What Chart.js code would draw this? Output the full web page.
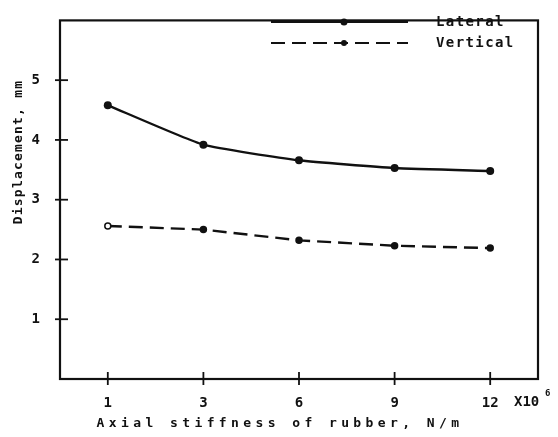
<!DOCTYPE html>
<html>
<head>
<meta charset="utf-8">
<script src="https://cdn.jsdelivr.net/npm/chart.js@4.4.1/dist/chart.umd.min.js"></script>
<style>
    html, body { margin: 0; padding: 0; background: #fff; }
    #wrap { width: 558px; height: 437px; }
</style>
</head>
<body>
<div id="wrap"><canvas id="chart" width="558" height="437"></canvas></div>
<script>
/**
 * Displacement vs. axial stiffness of rubber
 */

// 축 카테고리 (x 10^6 N/m)
const stiffness = ['1', '3', '6', '9', '12'];

// 변위 (mm)
const lateral = [4.58, 3.92, 3.66, 3.53, 3.48];
const vertical = [2.56, 2.50, 2.32, 2.23, 2.19];

const yTicks = [1, 2, 3, 4, 5];

const FONT = '"DejaVu Sans Mono", "Liberation Mono", monospace';
const INK = '#111';

/**
 * 프레임, 눈금, 축 제목, 범례를 그리는 플러그인
 */
const framePlugin = {
    id: 'frame',
    afterDraw(chart) {
        const { ctx, chartArea: a, scales } = chart;
        ctx.save();
        ctx.strokeStyle = INK;
        ctx.fillStyle = INK;

        // 외곽 박스
        ctx.lineWidth = 2.2;
        ctx.strokeRect(a.left, a.top, a.right - a.left, a.bottom - a.top);

        // 축을 가로지르는 눈금
        ctx.lineWidth = 1.8;
        yTicks.forEach(v => {
            const y = scales.y.getPixelForValue(v);
            ctx.beginPath();
            ctx.moveTo(a.left - 5, y);
            ctx.lineTo(a.left + 8, y);
            ctx.stroke();
        });
        stiffness.forEach((c, i) => {
            const x = scales.x.getPixelForValue(i);
            ctx.beginPath();
            ctx.moveTo(x, a.bottom - 7);
            ctx.lineTo(x, a.bottom + 6);
            ctx.stroke();
        });

        // x 축 배율 표기
        ctx.font = 'bold 14px ' + FONT;
        ctx.textBaseline = 'middle';
        ctx.textAlign = 'left';
        ctx.fillText('X10', 514, 402);
        ctx.font = 'bold 9px ' + FONT;
        ctx.fillText('6', 545, 394);

        // 축 제목
        ctx.font = 'bold 13px ' + FONT;
        ctx.letterSpacing = '4.4px';
        ctx.textAlign = 'center';
        ctx.fillText('Axial stiffness of rubber, N/m', 280, 424);

        ctx.save();
        ctx.translate(19, 152);
        ctx.rotate(-Math.PI / 2);
        ctx.letterSpacing = '1.2px';
        ctx.fillText('Displacement, mm', 0, 0);
        ctx.restore();

        // 범례
        const items = [
            { label: 'Lateral', y: 22, dash: [], r: 3.5 },
            { label: 'Vertical', y: 43, dash: [14, 7], r: 3 },
        ];
        items.forEach(it => {
            ctx.lineWidth = 2.2;
            ctx.setLineDash(it.dash);
            ctx.beginPath();
            ctx.moveTo(271, it.y);
            ctx.lineTo(408, it.y);
            ctx.stroke();
            ctx.setLineDash([]);
            ctx.beginPath();
            ctx.arc(344, it.y, it.r, 0, Math.PI * 2);
            ctx.fill();
            ctx.letterSpacing = '1.4px';
            ctx.textAlign = 'left';
            ctx.font = 'bold 14px ' + FONT;
            ctx.fillText(it.label, 436, it.y);
        });

        ctx.restore();
    },
};

const ctx = document.getElementById('chart').getContext('2d');

new Chart(ctx, {
    type: 'line',
    data: {
        labels: stiffness,
        datasets: [
            {
                label: 'Lateral',
                data: lateral,
                borderColor: INK,
                backgroundColor: INK,
                borderWidth: 2.4,
                tension: 0.15,
                pointRadius: 4,
                pointBackgroundColor: INK,
                pointBorderWidth: 0,
            },
            {
                label: 'Vertical',
                data: vertical,
                borderColor: INK,
                backgroundColor: INK,
                borderWidth: 2.4,
                borderDash: [14, 7],
                tension: 0,
                pointRadius: 3,
                pointBackgroundColor: ['#fff', INK, INK, INK, INK],
                pointBorderColor: INK,
                pointBorderWidth: 1.5,
            },
        ],
    },
    options: {
        responsive: false,
        animation: false,
        layout: { padding: { top: 6, right: 20, left: 0, bottom: 0 } },
        plugins: {
            legend: { display: false },
            tooltip: { enabled: false },
        },
        scales: {
            x: {
                type: 'category',
                offset: true,
                grid: { display: false },
                border: { display: false },
                ticks: {
                    color: INK,
                    padding: 8,
                    font: { family: FONT, size: 14, weight: 'bold' },
                },
                afterFit(scale) { scale.height = 58; },
            },
            y: {
                min: 0,
                max: 6,
                grid: { display: false },
                border: { display: false },
                ticks: {
                    stepSize: 1,
                    color: INK,
                    padding: 12,
                    font: { family: FONT, size: 14, weight: 'bold' },
                    callback: v => (yTicks.includes(v) ? String(v) : ''),
                },
                afterFit(scale) { scale.width = 60; },
            },
        },
    },
    plugins: [framePlugin],
});
</script>
</body>
</html>
